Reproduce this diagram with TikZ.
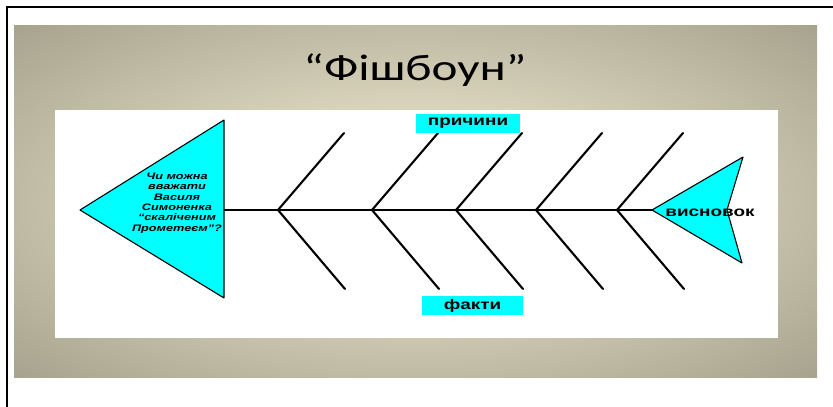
\documentclass[tikz,border=0pt]{standalone}
\usepackage{fontspec}
\setmainfont{Liberation Sans}
\newfontfamily\titlefont[FakeStretch=1.33]{Carlito}
\newfontfamily\labelfont[FakeStretch=1.35]{Liberation Sans}
\usetikzlibrary{positioning}

\definecolor{bgout}{HTML}{97947F}
\definecolor{bgin}{HTML}{EBE4CC}
\definecolor{fishcyan}{HTML}{00FFFF}
\pgfdeclareradialshading{slideshade}{\pgfpoint{0bp}{0bp}}{%
  color(0bp)=(bgin); color(14bp)=(bgin!78!bgout); color(42bp)=(bgout);
  color(60bp)=(bgout!90!black)}

\begin{document}
\begin{tikzpicture}[
    x=1pt, y=-1pt,
    bone/.style={line width=2.1pt, line cap=round, line join=miter},
    spine/.style={line width=2pt},
    fishpart/.style={draw, line width=1.1pt, fill=fishcyan, line join=round},
    tag/.style={fill=fishcyan, inner sep=0pt, minimum height=19pt,
        font=\labelfont\bfseries\fontsize{14}{16}\selectfont}
]
\useasboundingbox (0,0) rectangle (833,407);

% slide background
\draw[line width=1.6pt] (833,7) -- (7,7) -- (7,407);
\shade[shading=slideshade] (14,25) rectangle (817,377);
\fill[white] (55,110) rectangle (778,338);
\node[font=\titlefont\fontsize{37}{40}\selectfont] (title) at (415,70) {“Фішбоун”};

% head and tail
\coordinate (tip)  at (80,210);
\coordinate (htop) at (224,120);
\coordinate (hbot) at (224,298);
\coordinate (hmid) at (224,210);
\draw[fishpart] (tip) -- (htop) -- (hbot) -- cycle;

\coordinate (ttip) at (652,210);
\coordinate (ttop) at (743,157);
\coordinate (tcut) at (727,210);
\coordinate (tbot) at (742,263);
\draw[fishpart] (ttip) -- (ttop) -- (tcut) -- (tbot) -- cycle;

\draw[spine] (hmid) -- (ttip);

% bones
\foreach \x [count=\i] in {278,372,456,536,617} {
    \coordinate (v\i) at (\x,210);
    \coordinate (u\i) at (\x+66,133);
    \coordinate (d\i) at (\x+67,289);
    \draw[bone] (u\i) -- (v\i) -- (d\i);
}

% labels
\node[align=center, font=\labelfont\bfseries\itshape\fontsize{9.4}{10.4}\selectfont]
    (question) at (177,203)
    {Чи можна\\вважати\\Василя\\Симоненка\\“скаліченим\\Прометеєм”?};
\node[font=\labelfont\bfseries\fontsize{14}{16}\selectfont] (concl) at (710,213) {висновок};
\node[tag, minimum width=104pt] (causes) at (468,123.5) {причини};
\node[tag, minimum width=101pt] (facts)  at (472.5,305.5) {факти};
\end{tikzpicture}
\end{document}
